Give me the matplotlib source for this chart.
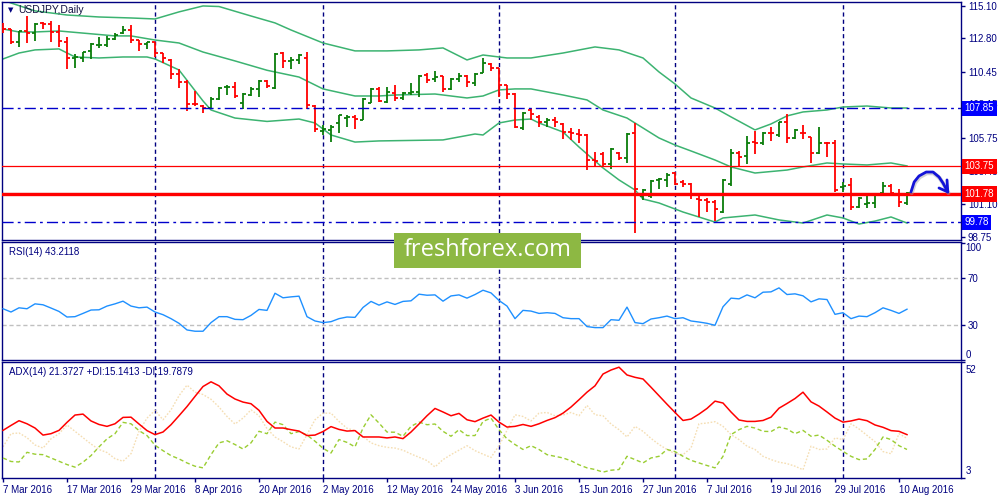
import matplotlib
matplotlib.use("Agg")
import matplotlib.pyplot as plt
import matplotlib.transforms as mtrans
from matplotlib.patches import Rectangle
import numpy as np
import pandas as pd

plt.rcParams['font.family'] = ['Liberation Sans', 'DejaVu Sans']

# ---------------- data ----------------
symbol_title = "USDJPY,Daily"
dates = pd.bdate_range("2016-03-07", periods=114)

opens = [113.54, 113.45, 112.57, 113.35, 113.17, 113.88, 113.83, 113.24, 112.57, 111.44,
         111.40, 111.94, 112.34, 112.34, 112.74, 113.17, 113.40, 112.67, 112.39, 112.53,
         111.75, 111.28, 110.29, 109.74, 108.16, 108.02, 107.86, 108.50, 109.34, 109.39,
         108.21, 108.80, 109.20, 109.79, 109.32, 111.80, 111.21, 111.28, 111.40, 108.02,
         106.25, 106.32, 106.84, 107.15, 107.22, 107.03, 108.26, 109.20, 108.33, 108.92,
         108.57, 108.92, 109.04, 110.22, 109.91, 110.15, 109.20, 109.91, 110.15, 109.67,
         110.38, 111.00, 110.68, 109.51, 108.85, 106.44, 107.74, 107.27, 106.91, 107.03,
         106.75, 106.20, 106.04, 105.97, 104.20, 104.63, 103.92, 104.72, 104.32, 106.09,
         101.65, 101.65, 102.79, 102.79, 103.26, 102.67, 102.50, 101.41, 101.37, 101.25,
         100.54, 102.50, 104.72, 104.48, 105.50, 105.38, 106.13, 105.97, 106.87, 105.74,
         106.13, 105.81, 104.68, 105.43, 105.38, 102.31, 102.43, 100.85, 101.12, 101.14,
         101.84, 102.36, 101.80, 101.18]
highs = [113.88, 113.47, 113.35, 114.39, 113.88, 113.95, 114.06, 113.76, 112.88, 111.68,
         111.87, 112.46, 112.88, 112.98, 113.21, 113.69, 113.76, 112.69, 112.57, 112.57,
         111.80, 111.33, 110.62, 109.86, 109.08, 108.09, 108.68, 109.34, 109.51, 109.70,
         108.92, 109.39, 109.86, 109.86, 111.75, 111.82, 111.47, 111.70, 111.87, 108.09,
         106.68, 106.68, 107.39, 107.39, 107.39, 108.57, 109.28, 109.34, 109.34, 109.51,
         109.04, 109.63, 110.22, 110.34, 110.52, 110.17, 109.98, 110.38, 110.22, 110.34,
         111.40, 111.05, 110.69, 109.54, 108.92, 107.62, 107.86, 107.39, 107.15, 107.27,
         106.84, 106.44, 106.37, 106.01, 104.79, 104.79, 105.03, 104.79, 106.09, 106.80,
         102.13, 102.79, 102.91, 103.26, 103.37, 102.79, 102.55, 101.65, 101.49, 101.37,
         102.84, 104.96, 104.84, 105.90, 106.28, 106.20, 106.52, 106.91, 107.46, 106.37,
         106.68, 105.85, 106.56, 105.50, 105.62, 102.67, 102.91, 101.56, 101.72, 101.84,
         102.67, 102.50, 102.13, 101.96]
lows = [113.17, 112.39, 112.18, 112.50, 112.64, 113.45, 112.57, 112.22, 110.62, 110.73,
        111.16, 111.33, 112.11, 112.22, 112.69, 113.10, 112.50, 111.94, 112.04, 111.51,
        111.04, 109.91, 109.28, 107.69, 108.02, 107.55, 107.79, 108.48, 108.80, 108.57,
        107.79, 108.75, 108.68, 109.28, 109.20, 110.73, 110.64, 110.97, 107.79, 106.20,
        105.97, 105.50, 106.13, 106.56, 106.38, 107.00, 108.24, 108.33, 108.21, 108.40,
        108.45, 108.80, 108.64, 109.67, 109.74, 109.04, 109.16, 109.74, 109.34, 109.44,
        110.34, 110.52, 108.68, 108.50, 106.44, 106.32, 107.03, 106.52, 106.56, 106.52,
        105.67, 105.62, 105.38, 103.49, 103.73, 103.68, 103.54, 104.20, 103.97, 99.01,
        101.37, 101.49, 102.13, 102.31, 102.43, 102.31, 101.42, 100.15, 100.54, 99.91,
        100.47, 102.36, 103.78, 103.92, 104.63, 105.26, 105.57, 105.85, 105.38, 105.67,
        105.67, 103.97, 104.63, 104.43, 101.96, 101.96, 100.66, 100.78, 100.78, 100.78,
        101.80, 101.80, 100.90, 101.02]
closes = [113.44, 112.53, 113.33, 113.17, 113.83, 113.83, 113.24, 112.62, 111.40, 111.51,
          111.87, 112.39, 112.37, 112.74, 113.07, 113.40, 112.69, 112.43, 112.57, 111.75,
          111.40, 110.29, 109.74, 108.16, 108.13, 107.90, 108.50, 109.32, 109.39, 108.73,
          108.87, 109.20, 109.81, 109.44, 111.73, 111.23, 111.30, 111.63, 108.09, 106.38,
          106.40, 106.56, 107.37, 107.22, 107.08, 108.50, 109.23, 108.40, 108.99, 108.57,
          108.96, 109.04, 110.17, 109.86, 110.10, 109.20, 109.91, 110.15, 109.70, 110.29,
          111.05, 110.69, 109.51, 108.85, 106.56, 107.55, 107.46, 106.91, 107.03, 106.91,
          106.20, 106.13, 105.97, 104.20, 104.13, 103.92, 104.96, 104.36, 106.07, 102.13,
          102.08, 102.74, 102.84, 103.14, 102.50, 102.50, 101.79, 101.35, 101.25, 100.71,
          102.79, 104.72, 104.43, 105.38, 105.38, 106.13, 106.09, 106.87, 105.74, 106.32,
          106.09, 104.68, 105.38, 105.38, 102.08, 102.38, 100.88, 101.49, 101.16, 101.74,
          102.36, 101.84, 101.25, 101.89]

# Bollinger band points (bar index, price)
bb_upper_idx = [0, 1, 4, 8, 12, 16, 19, 22, 25, 27, 31, 34, 36, 40, 44, 48, 52, 55, 58, 60,
                63, 66, 70, 74, 77, 80, 82, 84, 86, 89, 91, 94, 96, 98, 100, 103, 105, 108, 111, 113]
bb_upper = [115.53, 115.31, 114.75, 114.46, 114.32, 114.25, 114.18, 114.68, 115.10, 115.06,
            114.39, 113.90, 113.40, 112.48, 111.92, 111.92, 111.99, 112.13, 111.28, 111.63,
            111.42, 111.42, 111.77, 112.20, 111.99, 111.42, 110.43, 109.58, 108.59, 107.88,
            107.25, 106.33, 106.75, 107.32, 107.60, 107.74, 107.95, 108.02, 107.88, 107.88]
bb_mid_idx = [0, 2, 4, 7, 14, 16, 19, 22, 25, 29, 33, 37, 40, 44, 47, 49, 54, 58, 60, 62,
              64, 66, 70, 73, 75, 78, 82, 84, 86, 89, 91, 94, 98, 100, 103, 105, 108, 111, 113]
bb_mid = [113.47, 113.26, 113.26, 113.33, 112.98, 112.98, 112.69, 112.48, 111.84, 111.21,
          110.55, 110.07, 109.23, 108.73, 108.73, 108.80, 108.87, 108.59, 108.73, 109.16,
          109.23, 109.23, 108.80, 108.45, 107.74, 107.17, 105.76, 105.26, 104.84, 104.20,
          103.71, 103.28, 103.49, 103.71, 103.99, 103.92, 103.85, 103.99, 103.78]
bb_lower_idx = [0, 2, 4, 7, 9, 12, 15, 18, 19, 22, 25, 26, 29, 33, 37, 39, 41, 44, 47, 55,
                59, 60, 62, 64, 66, 67, 70, 72, 75, 77, 79, 80, 82, 85, 89, 90, 94, 97, 100,
                103, 105, 107, 109, 111, 113]
bb_lower = [111.35, 111.77, 111.99, 112.06, 111.49, 111.42, 111.49, 111.49, 111.35, 110.57,
            108.38, 107.74, 107.17, 106.93, 107.10, 106.82, 105.97, 105.47, 105.55, 105.62,
            106.04, 105.97, 106.82, 107.03, 107.10, 106.82, 106.18, 105.12, 103.64, 102.79,
            102.08, 101.44, 101.16, 100.52, 99.81, 100.10, 100.31, 99.96, 99.74, 100.31,
            100.10, 99.67, 99.88, 100.17, 99.74]

rsi = [43.6, 40.8, 44.4, 43.6, 47.8, 47.0, 44.2, 41.3, 36.5, 36.8,
       39.6, 42.5, 42.7, 45.9, 47.8, 50.1, 45.9, 44.4, 45.0, 40.8,
       38.5, 35.1, 31.1, 25.4, 24.3, 24.3, 31.7, 36.8, 36.8, 34.5,
       34.2, 37.9, 43.0, 42.2, 56.9, 53.0, 53.8, 54.4, 36.8, 33.1,
       31.7, 32.5, 35.1, 36.5, 36.2, 44.7, 49.9, 46.7, 49.5, 47.3,
       49.9, 50.4, 56.1, 55.2, 55.5, 50.1, 54.6, 55.5, 52.7, 55.8,
       59.5, 57.2, 50.7, 45.9, 35.1, 42.2, 41.6, 39.6, 40.2, 39.6,
       35.9, 35.1, 35.1, 28.3, 27.4, 27.4, 34.2, 33.7, 45.0, 31.7,
       30.8, 34.8, 35.9, 37.3, 35.1, 35.9, 33.1, 32.2, 31.1, 29.4,
       45.3, 52.7, 52.1, 55.5, 53.0, 57.8, 58.1, 61.5, 55.8, 56.4,
       54.7, 49.5, 52.1, 51.5, 38.8, 40.2, 35.1, 37.3, 36.8, 40.2,
       44.4, 42.2, 39.6, 43.2]

adx = [23.2, 25.3, 27.3, 26.0, 24.2, 21.2, 21.8, 23.2, 26.6, 29.7,
       30.1, 27.2, 25.7, 24.9, 26.0, 28.7, 28.8, 25.9, 23.1, 21.4,
       22.5, 25.6, 29.4, 33.3, 37.6, 41.8, 43.8, 42.1, 38.6, 36.5,
       35.2, 34.5, 31.7, 27.0, 24.2, 24.2, 23.5, 22.9, 21.0, 21.2,
       22.7, 24.8, 23.6, 22.9, 23.1, 20.4, 20.4, 20.4, 20.0, 20.4,
       19.7, 22.5, 25.9, 29.4, 32.5, 31.0, 29.4, 30.4, 27.7, 26.9,
       28.4, 29.7, 26.7, 24.6, 24.9, 25.7, 24.9, 26.0, 27.4, 28.6,
       30.5, 33.1, 36.2, 39.4, 42.1, 47.1, 48.8, 50.0, 46.7, 45.7,
       45.0, 41.5, 37.9, 34.3, 30.8, 27.4, 28.0, 30.1, 32.5, 35.6,
       34.8, 31.0, 27.6, 27.0, 27.0, 27.4, 28.8, 32.6, 34.6, 36.7,
       39.4, 35.3, 33.5, 31.0, 28.4, 26.7, 27.2, 28.0, 27.3, 25.5,
       24.5, 23.1, 22.8, 21.4]
plus_di = [11.5, 10.0, 9.8, 13.9, 13.1, 12.9, 11.5, 10.1, 8.7, 7.6,
           9.7, 12.5, 16.2, 19.6, 21.8, 26.6, 26.0, 23.1, 21.0, 16.9,
           14.6, 12.5, 11.1, 9.4, 8.0, 7.3, 12.9, 17.9, 18.8, 17.2,
           15.3, 17.9, 22.8, 21.8, 26.7, 25.6, 21.8, 22.7, 21.2, 18.6,
           15.6, 13.6, 19.3, 18.1, 16.2, 24.2, 29.8, 26.3, 22.5, 22.4,
           20.7, 24.9, 26.7, 25.6, 25.9, 22.8, 20.7, 23.5, 21.0, 21.0,
           27.0, 28.4, 23.5, 19.6, 17.2, 15.1, 16.7, 15.1, 12.9, 12.2,
           11.5, 10.3, 8.6, 7.3, 6.6, 5.5, 6.3, 6.6, 12.2, 10.8,
           9.4, 11.5, 12.2, 15.1, 14.2, 12.2, 10.5, 9.4, 8.3, 7.3,
           12.2, 21.4, 23.5, 24.9, 24.2, 22.8, 22.7, 24.6, 23.8, 21.8,
           23.2, 20.7, 21.2, 19.0, 16.5, 14.3, 12.2, 10.8, 11.1, 15.1,
           20.4, 19.3, 16.7, 15.1]
minus_di = [16.2, 21.8, 22.1, 20.1, 17.0, 15.7, 19.6, 21.8, 25.5, 22.8,
            20.1, 17.4, 15.1, 13.8, 11.2, 10.1, 13.3, 22.8, 28.4, 31.7,
            27.7, 31.9, 37.9, 42.4, 39.4, 38.4, 36.4, 33.1, 29.1, 25.9,
            28.4, 31.9, 29.4, 23.9, 20.4, 18.4, 16.2, 15.3, 21.4, 27.7,
            30.5, 30.5, 27.0, 24.1, 23.1, 20.7, 17.9, 16.7, 16.0, 15.7,
            14.8, 13.2, 11.8, 10.4, 7.7, 10.8, 12.9, 14.8, 16.7, 14.6,
            13.1, 11.7, 16.7, 23.2, 29.8, 29.1, 27.2, 30.5, 30.8, 29.4,
            29.7, 30.8, 29.4, 33.8, 29.8, 29.4, 25.9, 23.5, 20.4, 24.9,
            22.8, 19.8, 17.2, 15.1, 13.3, 12.9, 15.7, 26.0, 26.3, 26.9,
            24.9, 21.4, 19.3, 16.5, 15.1, 12.2, 10.8, 9.7, 9.1, 8.0,
            6.5, 16.5, 15.1, 15.3, 20.0, 19.3, 26.0, 23.8, 21.1, 18.4,
            14.2, 13.3, 21.8, 19.8]

level_blue = [107.85, 99.78]
level_red_thin = [103.75]
level_red_thick = [101.78]
price_ticks = [115.10, 112.80, 110.45, 108.15, 105.75, 103.45, 101.10, 98.75]
rsi_levels = [70, 30]
adx_range = (3, 52)

rsi_label = "RSI(14) 43.2118"
adx_label = "ADX(14) 21.3727 +DI:15.1413 -DI:19.7879"

# hand-drawn forecast arrow (annotation, bar index / price)
arrow_x = [113.5, 113.9, 114.5, 115.4, 116.25, 117.0, 117.5, 118.1]
arrow_y = [101.94, 102.65, 103.07, 103.35, 103.35, 103.00, 102.57, 101.94]
arrow_head_x = [117.0, 118.1, 118.0]
arrow_head_y = [102.22, 101.94, 102.79]

# ---------------- style ----------------
NAVY = "#000080"
UP = "#0a7d0a"
DOWN = "#ff0000"
BB = "#3cb371"
W, H = 1000.0, 500.0
n = len(closes)
idx = np.arange(n)
XLIM = (-0.125, 119.75)

fig = plt.figure(figsize=(10, 5), dpi=100)
fig.patch.set_facecolor("white")


def panel(top, bottom):
    a = fig.add_axes([2 / W, 1 - bottom / H, 959 / W, (bottom - top) / H])
    for s in a.spines.values():
        s.set_color(NAVY)
        s.set_linewidth(1.0)
    a.set_xlim(*XLIM)
    a.yaxis.set_ticks_position('right')
    a.tick_params(axis='y', which='both', left=False, labelleft=False, right=True,
                  labelright=True, colors=NAVY, labelsize=7, length=3, pad=2, width=1)
    a.tick_params(axis='x', which='both', bottom=False, labelbottom=False, top=False)
    a.set_facecolor("white")
    return a


ax = panel(2, 240)
ax_rsi = panel(242, 360)
ax_adx = panel(362, 478)

month_starts = [k for k in range(1, n) if dates[k].month != dates[k - 1].month]
for a in (ax, ax_rsi, ax_adx):
    for k in month_starts:
        a.axvline(k, color=NAVY, lw=1.0, ls=(0, (3, 2.2)), zorder=1)

# ---- main price panel ----
ax.set_ylim(98.54, 115.38)
ax.plot(bb_upper_idx, bb_upper, color=BB, lw=1.1, zorder=2)
ax.plot(bb_mid_idx, bb_mid, color=BB, lw=1.1, zorder=2)
ax.plot(bb_lower_idx, bb_lower, color=BB, lw=1.1, zorder=2)

o = np.array(opens); h = np.array(highs); l = np.array(lows); c = np.array(closes)
cols = [UP if cc >= oo else DOWN for oo, cc in zip(o, c)]
ax.vlines(idx, l, h, colors=cols, lw=1.3, zorder=3)
ax.hlines(o, idx - 0.42, idx, colors=cols, lw=1.3, zorder=3)
ax.hlines(c, idx, idx + 0.42, colors=cols, lw=1.3, zorder=3)

ax.axhline(closes[-1], color="#cfcfcf", lw=1.0, zorder=2)
for lv in level_blue:
    ax.axhline(lv, color="#0000cc", lw=1.0, ls=(0, (8, 3, 2, 3)), zorder=4)
for lv in level_red_thin:
    ax.axhline(lv, color="#ff0000", lw=0.9, zorder=4)
for lv in level_red_thick:
    ax.axhline(lv, color="#ff0000", lw=2.4, zorder=4)

ax.set_yticks(price_ticks)
ax.set_yticklabels([f"{v:.2f}" for v in price_ticks])

bt = mtrans.blended_transform_factory(ax.transAxes, ax.transData)
for lv, fc in [(level_blue[0], "#0000ff"), (level_red_thin[0], "#ff0000"),
               (level_red_thick[0], "#ff0000"), (level_blue[1], "#0000ff")]:
    ax.text(1.0035, lv, f"{lv:.2f}", transform=bt, ha='left', va='center', color='white',
            fontsize=7, clip_on=False, zorder=10,
            bbox=dict(boxstyle='square,pad=0.28', fc=fc, ec='none'))

# forecast arrow
ax.plot(np.array(arrow_x) + 0.08, np.array(arrow_y) - 0.08, color="#9a9aa8", lw=3.0,
        alpha=0.45, zorder=5, solid_capstyle='round')
ax.plot(arrow_x, arrow_y, color="#1414d8", lw=2.0, zorder=6, solid_capstyle='round',
        solid_joinstyle='round')
ax.plot(arrow_head_x, arrow_head_y, color="#1414d8", lw=2.0, zorder=6,
        solid_capstyle='round', solid_joinstyle='round')

fig.text(8 / W, 1 - 10.5 / H, "\u25BC", fontsize=5, color=NAVY, va='center', ha='left',
         family=['DejaVu Sans'])
fig.text(18 / W, 1 - 10 / H, symbol_title, fontsize=7.5, color="#101040", va='center',
         ha='left')

# ---- RSI ----
ax_rsi.set_ylim(-0.4, 100.9)
for lv in rsi_levels:
    ax_rsi.axhline(lv, color="#c0c0c0", lw=1.0, ls=(0, (3, 2)), zorder=1)
ax_rsi.plot(idx, rsi, color="#1e90ff", lw=1.0, zorder=3)
ax_rsi.set_yticks([100] + rsi_levels + [0])
ax_rsi.set_yticklabels(["", "70", "30", ""])
bt2 = mtrans.blended_transform_factory(ax_rsi.transAxes, ax_rsi.transData)
ax_rsi.text(1.0045, 100, "100", transform=bt2, ha='left', va='top', fontsize=7,
            color=NAVY, clip_on=False)
ax_rsi.text(1.0045, 0, "0", transform=bt2, ha='left', va='bottom', fontsize=7,
            color=NAVY, clip_on=False)
ax_rsi.text(7 / 959, 1 - 10 / 118, rsi_label, transform=ax_rsi.transAxes, fontsize=7,
            color=NAVY, va='center', ha='left')

# ---- ADX ----
ax_adx.set_ylim(3.2, 52.2)
ax_adx.plot(idx, minus_di, color="#f5deb3", lw=1.0, ls=(0, (1.2, 1.2)), zorder=2)
ax_adx.plot(idx, plus_di, color="#9acd32", lw=1.0, ls=(0, (3, 2)), zorder=3)
ax_adx.plot(idx, adx, color="#ff0000", lw=1.1, zorder=4)
ax_adx.set_yticks([adx_range[1], adx_range[0]])
ax_adx.set_yticklabels(["", ""])
bt3 = mtrans.blended_transform_factory(ax_adx.transAxes, ax_adx.transData)
ax_adx.text(1.0045, 51.0, str(adx_range[1]), transform=bt3, ha='left', va='top',
            fontsize=7, color=NAVY, clip_on=False)
ax_adx.text(1.0045, 4.0, str(adx_range[0]), transform=bt3, ha='left', va='bottom',
            fontsize=7, color=NAVY, clip_on=False)
ax_adx.text(7 / 959, 1 - 10 / 116, adx_label, transform=ax_adx.transAxes, fontsize=7,
            color=NAVY, va='center', ha='left')

tick_pos = list(range(0, n, 8))
tick_lab = [f"{dates[k].day} {dates[k].strftime('%b %Y')}" for k in tick_pos]
ax_adx.set_xticks(tick_pos)
ax_adx.set_xticklabels(tick_lab, ha='left')
ax_adx.tick_params(axis='x', bottom=True, labelbottom=True, colors=NAVY, labelsize=7,
                   length=3, pad=2, width=1)

# ---- watermark logo ----
fig.add_artist(Rectangle((394 / W, 1 - 267.7 / H), (581 - 394) / W, 35 / H,
                         transform=fig.transFigure, facecolor="#8db843",
                         edgecolor='none', zorder=20))
fig.text(487.5 / W, 1 - 250.5 / H, "freshforex.com", ha='center', va='center',
         color='white', fontsize=17, family=['Open Sans', 'DejaVu Sans'], zorder=21)

fig.savefig("out.png", dpi=100, facecolor="white")
